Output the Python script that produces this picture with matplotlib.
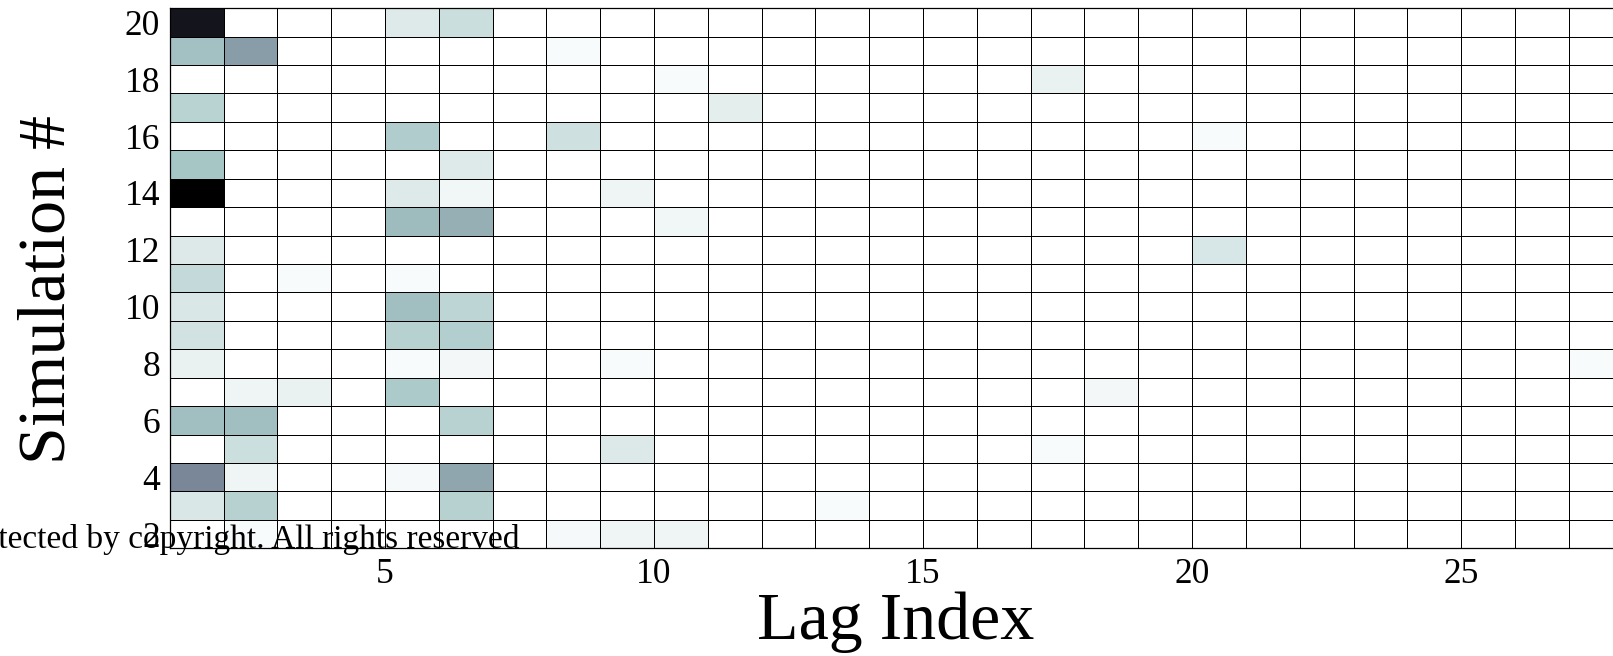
import numpy as np
import matplotlib
matplotlib.use("Agg")
import matplotlib.pyplot as plt

plt.rcParams["font.family"] = ["Liberation Serif", "DejaVu Serif"]

# Simulation numbers (rows) and lag indices (columns)
simulations = list(range(2, 21))
lags = list(range(1, 28))

# Non-zero weights as (simulation, lag, value) triples
cell_sim = [20, 20, 20,
            19, 19, 19,
            18, 18,
            17, 17,
            16, 16, 16,
            15, 15,
            14, 14, 14, 14,
            13, 13, 13,
            12, 12,
            11, 11, 11,
            10, 10, 10,
            9, 9, 9,
            8, 8, 8, 8, 8,
            7, 7, 7, 7,
            6, 6, 6,
            5, 5, 5,
            4, 4, 4, 4,
            3, 3, 3, 3,
            2, 2, 2, 2]
cell_lag = [1, 5, 6,
            1, 2, 8,
            10, 17,
            1, 11,
            5, 8, 20,
            1, 6,
            1, 5, 6, 9,
            5, 6, 10,
            1, 20,
            1, 3, 5,
            1, 5, 6,
            1, 5, 6,
            1, 5, 6, 9, 27,
            2, 3, 5, 18,
            1, 2, 6,
            2, 9, 17,
            1, 2, 5, 6,
            1, 2, 6, 13,
            2, 8, 9, 10]
cell_val = [0.91, 0.095, 0.15,
            0.27, 0.39, 0.02,
            0.02, 0.066,
            0.20, 0.08,
            0.23, 0.14, 0.02,
            0.255, 0.095,
            1.00, 0.095, 0.04, 0.05,
            0.29, 0.33, 0.04,
            0.10, 0.117,
            0.168, 0.022, 0.022,
            0.11, 0.28, 0.19,
            0.13, 0.21, 0.22,
            0.066, 0.022, 0.037, 0.022, 0.022,
            0.05, 0.066, 0.24, 0.037,
            0.28, 0.28, 0.205,
            0.146, 0.10, 0.022,
            0.46, 0.05, 0.03, 0.36,
            0.11, 0.21, 0.21, 0.022,
            0.022, 0.03, 0.05, 0.05]

x_ticks = [5, 10, 15, 20, 25]
y_ticks = [2, 4, 6, 8, 10, 12, 14, 16, 18, 20]

# Assemble the simulation x lag grid
grid = np.zeros((len(simulations), len(lags)))
for s, l, v in zip(cell_sim, cell_lag, cell_val):
    grid[simulations.index(s), lags.index(l)] = v

x_edges = np.arange(lags[0], lags[-1] + 2)
y_edges = np.arange(simulations[0] - 0.5, simulations[-1] + 1.0)

fig = plt.figure(figsize=(16.13, 6.56), dpi=100)
ax = fig.add_axes([0.10521, 0.16418, 0.90074, 0.82332])

ax.pcolormesh(x_edges, y_edges, grid, cmap="bone_r", vmin=0, vmax=1,
              edgecolors="black", linewidth=0.55)

ax.set_xlim(x_edges[0], x_edges[-1])
ax.set_ylim(y_edges[0], y_edges[-1])
ax.set_xticks(x_ticks)
ax.set_yticks(y_ticks)
ax.tick_params(axis="both", length=0, labelsize=25.5, pad=7)

for sp in ax.spines.values():
    sp.set_color("black")
    sp.set_linewidth(0.9)

ax.set_xlabel("Lag Index", fontsize=49)
ax.set_ylabel("Simulation #", fontsize=49)
ax.xaxis.set_label_coords(0.5, -0.080)
ax.yaxis.set_label_coords(-0.0625, 0.479)

fig.text(520 / 1613, (656 - 548) / 656,
         "Protected by copyright. All rights reserved",
         ha="right", va="baseline", fontsize=24.0, color="black")

fig.savefig("out.png", dpi=100)
